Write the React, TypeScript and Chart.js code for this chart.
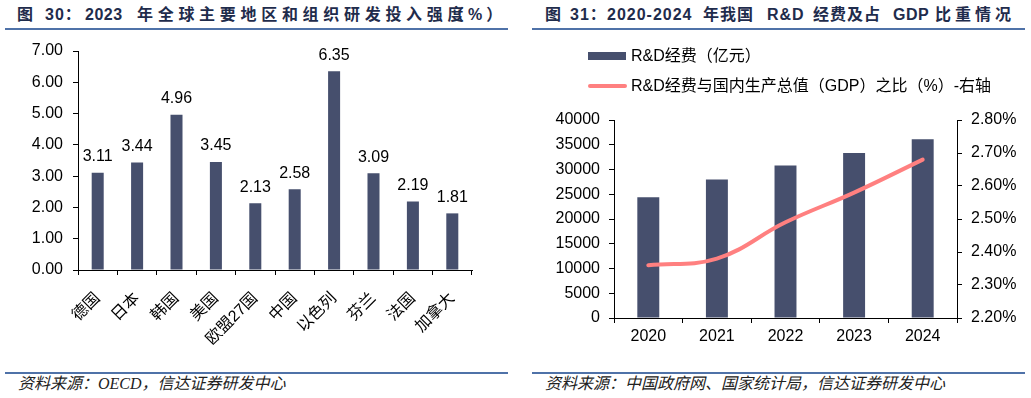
import React, { useEffect, useRef } from 'react';
import { Chart, registerables } from 'chart.js';
Chart.register(...registerables);

const countries = ['德国', '日本', '韩国', '美国', '欧盟27国', '中国', '以色列', '芬兰', '法国', '加拿大'];
const intensity = [3.11, 3.44, 4.96, 3.45, 2.13, 2.58, 6.35, 3.09, 2.19, 1.81];

const years = ['2020', '2021', '2022', '2023', '2024'];
const rdSpend = [24393, 27956, 30783, 33357, 36130];
const rdRatio = [2.36, 2.38, 2.49, 2.58, 2.68];

const leftTitleParts = [
  { t: '图', x: 17, ls: 0 },
  { t: '30：', x: 45, ls: 1 },
  { t: '2023', x: 85, ls: 0.5 },
  { t: '年全球主要地区和组织研发投入强度', x: 137, ls: 4.7 },
  { t: '（%）', x: 448, ls: 4 },
];
const rightTitleParts = [
  { t: '图', x: 545, ls: 0 },
  { t: '31：', x: 570, ls: 1 },
  { t: '2020-2024', x: 607, ls: 1 },
  { t: '年我国', x: 703, ls: 1 },
  { t: 'R&D', x: 767, ls: 1 },
  { t: '经费及占', x: 813, ls: 1 },
  { t: 'GDP', x: 893, ls: 0.5 },
  { t: '比重情况', x: 935, ls: 4 },
];
const leftSource = '资料来源：OECD，信达证券研发中心';
const rightSource = '资料来源：中国政府网、国家统计局，信达证券研发中心';
const legendBar = 'R&D经费（亿元）';
const legendLine = 'R&D经费与国内生产总值（GDP）之比（%）-右轴';

const FONT = '"Liberation Sans", "Noto Sans CJK SC", sans-serif';
const FS = 16;
const BAR = '#464f6d';
const LINE = '#ff8080';
const TITLE_COLOR = '#1f2c4c';
const RULE = '#4f72a8';

const valueLabels = {
  id: 'valueLabels',
  afterDatasetsDraw(chart: any) {
    const ctx = chart.ctx;
    const meta = chart.getDatasetMeta(0);
    ctx.save();
    ctx.font = `${FS}px ${FONT}`;
    ctx.fillStyle = '#000';
    ctx.textAlign = 'center';
    ctx.textBaseline = 'bottom';
    meta.data.forEach((el: any, i: number) => {
      const v = chart.data.datasets[0].data[i] as number;
      ctx.fillText(v.toFixed(2), el.x, el.y - 8);
    });
    ctx.restore();
  },
};

function LeftChart() {
  const ref = useRef<HTMLCanvasElement>(null);
  useEffect(() => {
    const chart = new Chart(ref.current!, {
      type: 'bar',
      data: {
        labels: countries,
        datasets: [
          {
            data: intensity,
            backgroundColor: BAR,
            barPercentage: 0.305,
            categoryPercentage: 1,
          },
        ],
      },
      options: {
        animation: false,
        responsive: false,
        maintainAspectRatio: false,
        layout: { padding: { top: 21, right: 43, left: 0, bottom: 0 } },
        plugins: { legend: { display: false }, tooltip: { enabled: false } },
        scales: {
          x: {
            grid: { display: true, drawOnChartArea: false, offset: true, tickLength: 5, color: '#000' },
            border: { color: '#000', width: 1 },
            ticks: {
              font: { size: FS, family: FONT },
              color: '#000',
              maxRotation: 45,
              minRotation: 45,
              autoSkip: false,
              padding: 14,
            },
            afterFit: (s: any) => {
              s.height = 100;
            },
          },
          y: {
            min: 0,
            max: 7,
            ticks: {
              stepSize: 1,
              callback: (v: any) => Number(v).toFixed(2),
              font: { size: FS, family: FONT },
              color: '#000',
              padding: 10,
            },
            grid: { drawOnChartArea: false, tickLength: 5, color: '#000' },
            border: { color: '#000', width: 1 },
            afterFit: (s: any) => {
              s.width = 78;
            },
          },
        },
      },
      plugins: [valueLabels],
    });
    return () => chart.destroy();
  }, []);
  return (
    <canvas
      ref={ref}
      width={515}
      height={340}
      style={{ position: 'absolute', left: 0, top: 30, width: 515, height: 340 }}
    />
  );
}

function RightChart() {
  const ref = useRef<HTMLCanvasElement>(null);
  useEffect(() => {
    const chart = new Chart(ref.current!, {
      type: 'bar',
      data: {
        labels: years,
        datasets: [
          {
            type: 'line',
            data: rdRatio,
            yAxisID: 'y1',
            borderColor: LINE,
            borderWidth: 4,
            pointRadius: 0,
            tension: 0.4,
            borderCapStyle: 'round',
            order: 0,
          } as any,
          {
            type: 'bar',
            data: rdSpend,
            yAxisID: 'y',
            backgroundColor: BAR,
            barPercentage: 0.32,
            categoryPercentage: 1,
            order: 1,
          },
        ],
      },
      options: {
        animation: false,
        responsive: false,
        maintainAspectRatio: false,
        layout: { padding: { top: 90, right: 0, left: 0, bottom: 0 } },
        plugins: { legend: { display: false }, tooltip: { enabled: false } },
        scales: {
          x: {
            grid: { display: true, drawOnChartArea: false, offset: true, tickLength: 5, color: '#000' },
            border: { color: '#000', width: 1 },
            ticks: { font: { size: FS, family: FONT }, color: '#000', padding: 4, maxRotation: 0 },
            afterFit: (s: any) => {
              s.height = 52;
            },
          },
          y: {
            position: 'left',
            min: 0,
            max: 40000,
            ticks: {
              stepSize: 5000,
              callback: (v: any) => String(v),
              font: { size: FS, family: FONT },
              color: '#000',
              padding: 9,
            },
            grid: { drawOnChartArea: false, tickLength: 5, color: '#000' },
            border: { color: '#000', width: 1 },
            afterFit: (s: any) => {
              s.width = 94;
            },
          },
          y1: {
            position: 'right',
            min: 2.2,
            max: 2.8,
            ticks: {
              stepSize: 0.1,
              callback: (v: any) => Number(v).toFixed(2) + '%',
              font: { size: FS, family: FONT },
              color: '#000',
              padding: 9,
            },
            grid: { drawOnChartArea: false, tickLength: 5, color: '#000' },
            border: { color: '#000', width: 1 },
            afterFit: (s: any) => {
              s.width = 74;
            },
          },
        },
      },
    });
    return () => chart.destroy();
  }, []);
  return (
    <canvas
      ref={ref}
      width={511}
      height={340}
      style={{ position: 'absolute', left: 520, top: 30, width: 511, height: 340 }}
    />
  );
}

const titleStyle: React.CSSProperties = {
  position: 'absolute',
  top: 5,
  fontFamily: FONT,
  fontWeight: 'bold',
  fontSize: 16,
  lineHeight: '20px',
  color: TITLE_COLOR,
  whiteSpace: 'pre',
};

const sourceStyle: React.CSSProperties = {
  position: 'absolute',
  top: 375,
  fontFamily: '"Liberation Serif", "Noto Sans CJK SC", serif',
  fontStyle: 'italic',
  fontSize: 16,
  lineHeight: '18px',
  color: '#222',
  whiteSpace: 'pre',
};

const legendText: React.CSSProperties = {
  position: 'absolute',
  left: 631,
  fontFamily: FONT,
  fontSize: FS,
  lineHeight: '18px',
  color: '#000',
  whiteSpace: 'pre',
};

export default function App() {
  return (
    <div
      style={{
        position: 'absolute',
        left: 0,
        top: 0,
        width: 1031,
        height: 398,
        background: '#fff',
        overflow: 'hidden',
      }}
    >
      {leftTitleParts.map((p, i) => (
        <div key={'l' + i} style={{ ...titleStyle, left: p.x, letterSpacing: p.ls }}>
          {p.t}
        </div>
      ))}
      {rightTitleParts.map((p, i) => (
        <div key={'r' + i} style={{ ...titleStyle, left: p.x, letterSpacing: p.ls }}>
          {p.t}
        </div>
      ))}
      <div style={{ position: 'absolute', left: 5, top: 28, width: 503, height: 2, background: RULE }} />
      <div style={{ position: 'absolute', left: 532, top: 28, width: 493, height: 2, background: RULE }} />
      <LeftChart />
      <RightChart />
      <div style={{ position: 'absolute', left: 588, top: 52, width: 38, height: 8, background: BAR }} />
      <div style={{ ...legendText, top: 47 }}>{legendBar}</div>
      <div
        style={{
          position: 'absolute',
          left: 588,
          top: 84,
          width: 39,
          height: 4,
          borderRadius: 2,
          background: LINE,
        }}
      />
      <div style={{ ...legendText, top: 77 }}>{legendLine}</div>
      <div style={{ position: 'absolute', left: 5, top: 372, width: 503, height: 1.5, background: RULE }} />
      <div style={{ position: 'absolute', left: 532, top: 372, width: 493, height: 1.5, background: RULE }} />
      <div style={{ ...sourceStyle, left: 18 }}>{leftSource}</div>
      <div style={{ ...sourceStyle, left: 545 }}>{rightSource}</div>
    </div>
  );
}
